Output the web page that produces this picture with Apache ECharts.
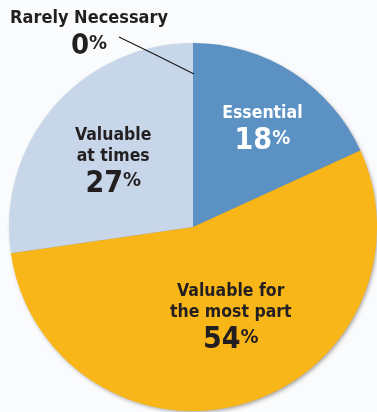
<!DOCTYPE html>
<html>
<head>
<meta charset="utf-8">
<style>
html,body{margin:0;padding:0;background:#fafbfd;}
#chart{width:377px;height:412px;}
</style>
<script src="https://cdn.jsdelivr.net/npm/echarts@6/dist/echarts.min.js"></script>
</head>
<body>
<div id="chart"></div>
<script>
const categories = ['Essential', 'Valuable for the most part', 'Valuable at times', 'Rarely Necessary'];
const labelText = ['Essential', 'Valuable for\nthe most part', 'Valuable\nat times', 'Rarely Necessary'];
const values = [18, 54, 27, 0];
const colors = ['#5b91c3', '#f8b618', '#c7d6e8', '#c7d6e8'];
const textColors = ['#ffffff', '#231f20', '#231f20', '#231f20'];

const FONT = "'Liberation Sans Narrow', 'Arial Narrow', 'DejaVu Sans Condensed', sans-serif";

function makeRich(color, nameSize, numSize, pctSize) {
  return {
    name: {fontFamily: FONT, fontWeight: 'bold', fontSize: nameSize, lineHeight: nameSize + 3, color: color},
    num: {fontFamily: FONT, fontWeight: 'bold', fontSize: numSize, lineHeight: numSize + 6, color: color},
    pct: {fontFamily: FONT, fontWeight: 'bold', fontSize: pctSize, lineHeight: numSize + 6, color: color, padding: [0, 0, 6, 0]}
  };
}

function fmt(i) {
  return labelText[i].split('\n').map(s => '{name|' + s + '}').join('\n') + '\n{num|' + values[i] + '}{pct|%}';
}

// main slices with inside labels
const data = categories.map((c, i) => {
  const zero = values[i] === 0;
  return {
    name: c,
    value: values[i],
    itemStyle: {color: colors[i]},
    label: {
      show: !zero,
      position: 'inside',
      align: 'center',
      formatter: () => fmt(i),
      rich: makeRich(textColors[i], 17.5, 30, 20)
    },
    labelLine: {show: false}
  };
});

// overlay layer used only for the outside label of the zero slice (drawn above the pie)
const overlayData = categories.map((c, i) => {
  const zero = values[i] === 0;
  return {
    name: c,
    value: values[i],
    itemStyle: {color: 'rgba(0,0,0,0)'},
    label: {
      show: zero,
      position: 'outside',
      align: 'center',
      formatter: () => fmt(i),
      rich: makeRich(textColors[i], 18, 29, 20)
    },
    labelLine: {show: zero, lineStyle: {color: '#1a1a1a', width: 1.2}}
  };
});

const total = values.reduce((a, b) => a + b, 0);
const labelShift = [[18, -16], [11, 2], [-8, -1]];

const chart = echarts.init(document.getElementById('chart'));
chart.setOption({
  backgroundColor: '#fafbfd',
  animation: false,
  series: [{
    type: 'pie',
    silent: true,
    z: 1,
    center: [193, 227],
    radius: 183,
    label: {show: false},
    labelLine: {show: false},
    itemStyle: {color: '#8a8580', shadowBlur: 4, shadowOffsetX: 1.5, shadowOffsetY: 2, shadowColor: 'rgba(60,50,40,0.5)'},
    data: [{value: total, name: 'backdrop'}]
  }, {
    type: 'pie',
    z: 2,
    center: [193, 227],
    radius: 184,
    startAngle: 90,
    clockwise: true,
    avoidLabelOverlap: false,
    itemStyle: {borderWidth: 0},
    emphasis: {disabled: true},
    data: data,
    labelLayout: function (p) {
      const s = labelShift[p.dataIndex] || [0, 0];
      return {dx: s[0], dy: s[1]};
    }
  }, {
    type: 'pie',
    z: 3,
    silent: true,
    center: [193, 227],
    radius: 184,
    startAngle: 90,
    clockwise: true,
    avoidLabelOverlap: false,
    itemStyle: {borderWidth: 0},
    emphasis: {disabled: true},
    data: overlayData,
    labelLayout: function (p) {
      if (values[p.dataIndex] === 0) {
        return {x: 89, y: 36, align: 'center', verticalAlign: 'middle', labelLinePoints: [[194, 74], [156, 55], [119, 37]]};
      }
      return {};
    }
  }]
});
</script>
</body>
</html>
